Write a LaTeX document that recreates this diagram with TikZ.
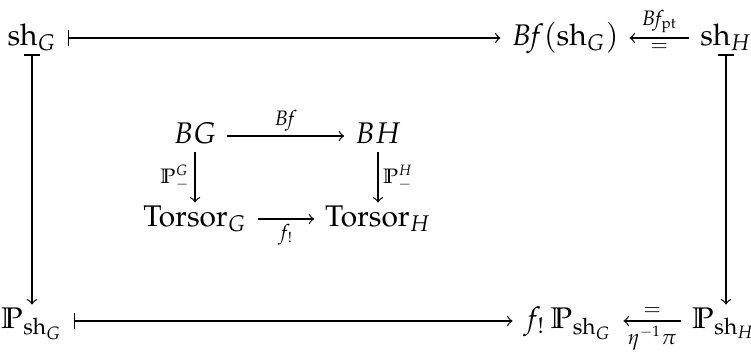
\documentclass[tikz,border=0pt]{standalone}
\usepackage{amsmath}
\usepackage{mathpazo}
\newcommand{\Bfmap}{B\mkern-2.5mu f}

\begin{document}
\begin{tikzpicture}[x=0.335pt, y=-0.335pt, >=to,
                    every node/.style={font=\normalsize},
                    cell/.style={inner xsep=3.5pt, inner ysep=1pt,
                                 text height=1.55ex, text depth=0.45ex},
                    lbl/.style={font=\scriptsize, inner sep=1.5pt}]
  \useasboundingbox (0,0) rectangle (751,354);

  %% outer square
  \node[cell] (shG)   at (32,38)  {$\mathrm{sh}_G$};
  \node[cell] (BfshG) at (565,38) {$\Bfmap(\mathrm{sh}_G)$};
  \node[cell] (shH)   at (726,38) {$\mathrm{sh}_H$};
  \node[cell] (PshG)  at (32,321) {$\mathbb{P}_{\mathrm{sh}_G}$};
  \node[cell] (fPshG) at (568,321) {$f_!\,\mathbb{P}_{\mathrm{sh}_G}$};
  \node[cell] (PshH)  at (724,321) {$\mathbb{P}_{\mathrm{sh}_H}$};

  \draw[|->] (shG) -- (BfshG);
  \draw[->] (shH) -- node[above, lbl] {$\Bfmap_{\mathrm{pt}}$}
                     node[below, lbl] {$=$} (BfshG);
  \draw[|->] (shG) -- (PshG);
  \draw[|->] (shH) -- (shH |- PshH.north);
  \draw[|->] (PshG) -- (fPshG);
  \draw[->] (PshH) -- node[above, lbl] {$=$}
                      node[below, lbl] {$\eta^{-1}\pi$} (fPshG);

  %% inner square
  \node[cell] (BG)   at (195,136) {$BG$};
  \node[cell] (BH)   at (378,136) {$BH$};
  \node[cell] (TorG) at (195,219) {$\mathrm{Torsor}_G$};
  \node[cell] (TorH) at (378,219) {$\mathrm{Torsor}_H$};

  \draw[->] (BG) -- node[above, lbl] {$\Bfmap$} (BH);
  \draw[->] (TorG) -- node[below, lbl] {$f_!$} (TorH);
  \draw[->] (BG) -- node[left, lbl] {$\mathbb{P}^{G}_{-}$} (TorG);
  \draw[->] (BH) -- node[right, lbl] {$\mathbb{P}^{H}_{-}$} (TorH);

\end{tikzpicture}
\end{document}
